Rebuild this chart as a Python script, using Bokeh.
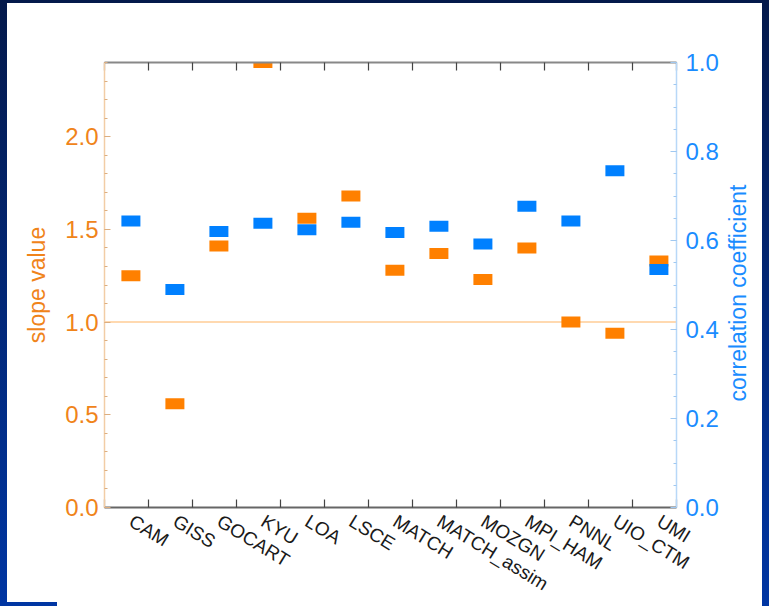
from bokeh.embed import file_html
from bokeh.layouts import column
from bokeh.models import (Div, FixedTicker, LinearAxis, PrintfTickFormatter,
                          Range1d, SingleIntervalTicker, Span,
                          ColumnDataSource)
from bokeh.plotting import figure
from bokeh.resources import INLINE

# Aerosol models compared against observations
models = ["CAM", "GISS", "GOCART", "KYU", "LOA", "LSCE", "MATCH",
          "MATCH_assim", "MOZGN", "MPI_HAM", "PNNL", "UIO_CTM", "UMI"]
# Regression slope of each model (left axis)
slope = [1.25, 0.56, 1.41, 2.40, 1.56, 1.68, 1.28,
         1.37, 1.23, 1.40, 1.00, 0.94, 1.33]
# Correlation coefficient of each model (right axis)
corr = [0.644, 0.490, 0.620, 0.639, 0.624, 0.641, 0.618,
        0.632, 0.592, 0.677, 0.644, 0.757, 0.535]

ORANGE = "#ff8000"
BLUE = "#0080ff"
ORANGE_TXT = "#f0841a"
BLUE_TXT = "#1a8cff"
FONT = "Liberation Sans"

xs = list(range(1, len(models) + 1))
edges = [round(0.4 + i, 2) for i in range(len(models) + 1)]

src = ColumnDataSource(dict(x=xs, slope=slope, corr=corr, name=models))

p = figure(width=769, height=606, frame_width=572, frame_height=450,
           x_range=Range1d(0.4, 13.4), y_range=Range1d(0, 2.4),
           x_axis_type=None, y_axis_type=None,
           output_backend="svg", toolbar_location=None,
           min_border_left=104, min_border_right=93,
           min_border_top=62, min_border_bottom=94)
p.extra_y_ranges = {"corr": Range1d(0, 1.0)}
p.background_fill_color = "white"
p.border_fill_color = None
p.outline_line_color = None

# slide background: navy frame with a white panel; the long model names
# run off the bottom of the panel
p.styles = {
    "height": "606px",
    "overflow": "hidden",
    "background": (
        "linear-gradient(#ffffff, #ffffff) 7px 3px / 755px 599px no-repeat, "
        "linear-gradient(to bottom, #04194b, #0036a3)"
    ),
    "clip-path": ("polygon(0px 0px, 769px 0px, 769px 606px, 762px 606px, "
                  "762px 597px, 57px 597px, 57px 606px, 0px 606px)"),
}

# reference line at slope = 1
p.add_layout(Span(location=1.0, dimension="width", line_color="#ffd9b0",
                  line_width=2, level="underlay"))

# markers
p.rect(x="x", y="slope", width=19, height=11, width_units="screen",
       height_units="screen", fill_color=ORANGE, line_color=None, source=src)
p.rect(x="x", y="corr", width=19, height=11, width_units="screen",
       height_units="screen", fill_color=BLUE, line_color=None,
       y_range_name="corr", source=src)

# left axis: slope
yl = LinearAxis(ticker=SingleIntervalTicker(interval=0.5, num_minor_ticks=5),
                formatter=PrintfTickFormatter(format="%.1f"))
yl.axis_line_color = "#f2cda6"
yl.axis_line_width = 1.5
yl.major_tick_line_color = "#dcae80"
yl.minor_tick_line_color = "#dcae80"
yl.major_tick_in, yl.major_tick_out = 6, 0
yl.minor_tick_in, yl.minor_tick_out = 3, 0
yl.major_label_text_color = ORANGE_TXT
yl.major_label_text_font = FONT
yl.major_label_text_font_size = "24px"
yl.major_label_standoff = 6
yl.axis_label = "slope value"
yl.axis_label_text_color = ORANGE_TXT
yl.axis_label_text_font = FONT
yl.axis_label_text_font_size = "23px"
yl.axis_label_text_font_style = "normal"
yl.axis_label_standoff = 12
p.add_layout(yl, "left")

# right axis: correlation coefficient
yr = LinearAxis(y_range_name="corr",
                ticker=SingleIntervalTicker(interval=0.2, num_minor_ticks=4),
                formatter=PrintfTickFormatter(format="%.1f"))
yr.axis_line_color = "#b8d8f8"
yr.axis_line_width = 1.5
yr.major_tick_line_color = "#a0c8f0"
yr.minor_tick_line_color = "#a0c8f0"
yr.major_tick_in, yr.major_tick_out = 6, 0
yr.minor_tick_in, yr.minor_tick_out = 3, 0
yr.major_label_text_color = BLUE_TXT
yr.major_label_text_font = FONT
yr.major_label_text_font_size = "24px"
yr.major_label_standoff = 9
p.add_layout(yr, "right")

# bottom axis: model names, ticks between the columns
xb = LinearAxis(ticker=FixedTicker(ticks=xs, minor_ticks=edges),
                major_label_overrides={x: n for x, n in zip(xs, models)})
xb.axis_line_color = "#666666"
xb.axis_line_width = 2
xb.major_tick_in, xb.major_tick_out = 0, 0
xb.minor_tick_in, xb.minor_tick_out = 8, 0
xb.minor_tick_line_color = "#444444"
xb.minor_tick_line_width = 1.2
xb.major_label_orientation = -0.55
xb.major_label_standoff = 12
xb.major_label_text_font = FONT
xb.major_label_text_font_size = "19px"
xb.major_label_text_color = "#1a1a1a"
p.add_layout(xb, "below")

# top axis: ticks only
xt = LinearAxis(ticker=FixedTicker(ticks=[], minor_ticks=edges))
xt.axis_line_color = "#888888"
xt.axis_line_width = 2
xt.major_tick_in, xt.major_tick_out = 0, 0
xt.minor_tick_in, xt.minor_tick_out = 8, 0
xt.minor_tick_line_color = "#444444"
xt.minor_tick_line_width = 1.2
xt.major_label_text_font_size = "0px"
p.add_layout(xt, "above")

# title of the right axis, reading upwards beside the tick labels
right_title = Div(
    text="correlation coefficient", width=240, height=28,
    styles={
        "position": "absolute", "left": "613px", "top": "274px",
        "width": "240px", "height": "28px",
        "transform": "rotate(-90deg)", "transform-origin": "50% 50%",
        "font-family": FONT, "font-size": "23px", "color": BLUE_TXT,
        "text-align": "center", "line-height": "28px",
        "white-space": "nowrap", "z-index": "2",
    },
)

root = column(p, right_title, spacing=0)
open("out.html", "w").write(file_html(root, INLINE))
